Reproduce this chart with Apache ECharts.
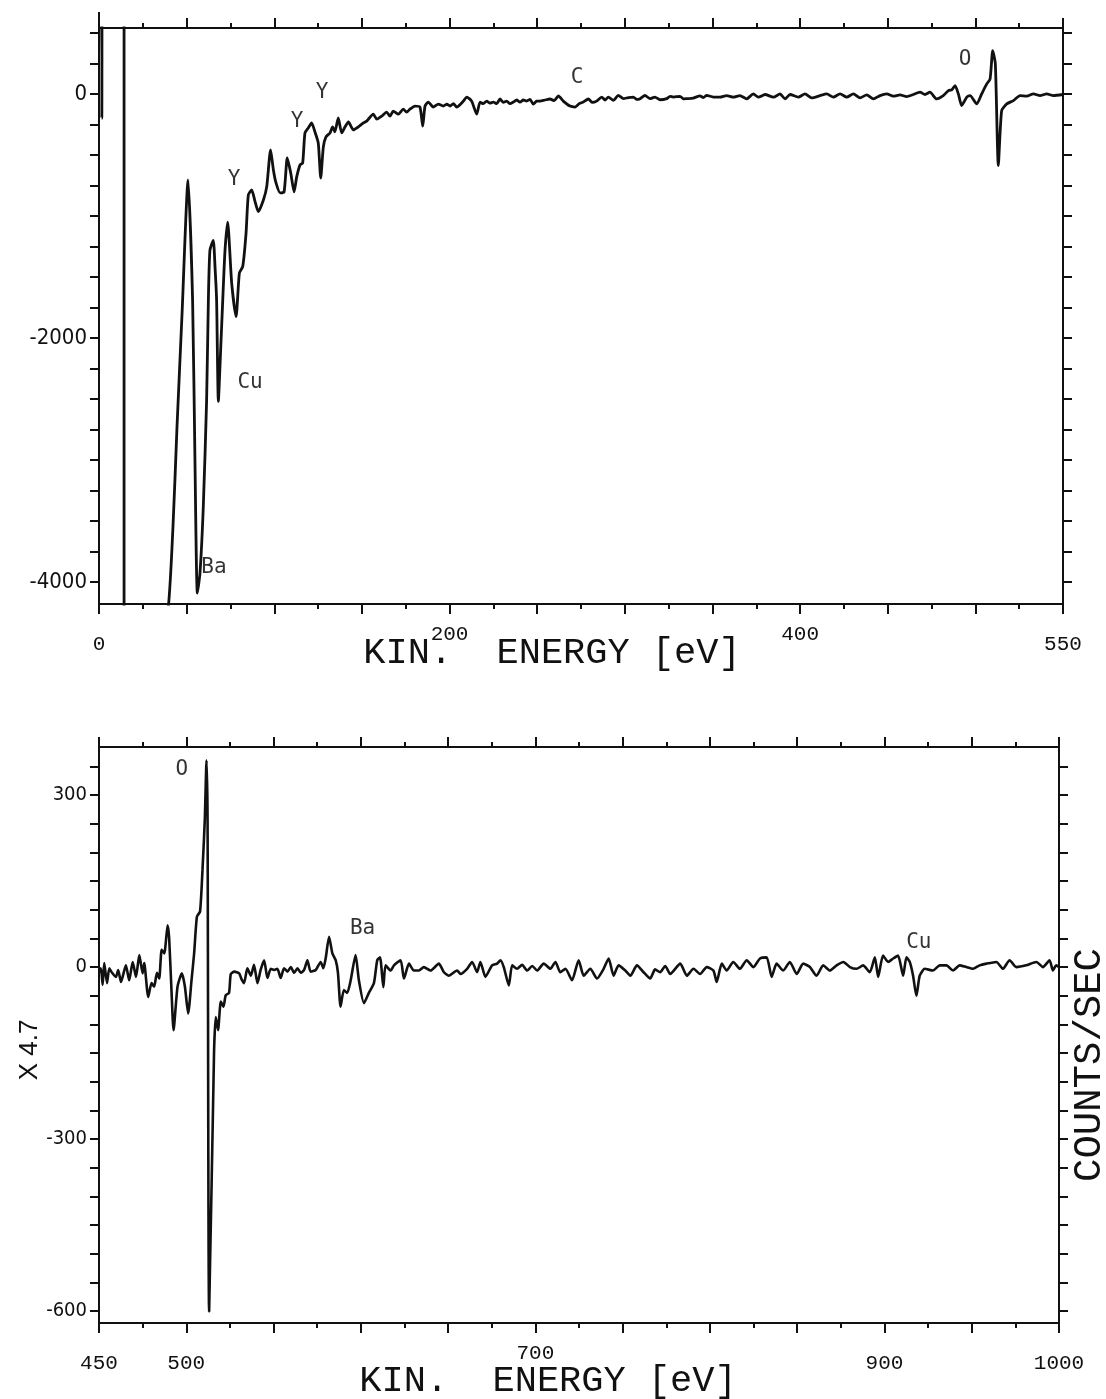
<!DOCTYPE html>
<html>
<head>
<meta charset="utf-8">
<title>AES spectrum</title>
<script src="https://cdn.jsdelivr.net/npm/echarts@6.0.0/dist/echarts.min.js"></script>
<style>
html,body{margin:0;padding:0;background:#fff;}
#chart{width:1106px;height:1399px;}
</style>
</head>
<body>
<div id="chart"></div>
<script>
// values (eV, counts/sec)
const topXLabels = [0, 200, 400, 550];
const topYTicks = [-4000, -3750, -3500, -3250, -3000, -2750, -2500, -2250, -2000, -1750, -1500, -1250, -1000, -750, -500, -250, 0, 250, 500];
const topYLabels = [0, -2000, -4000];
const botXLabels = [450, 500, 700, 900, 1000];
const raisedXLabels = [200, 400, 700];
const botYTicks = [-600, -550, -500, -450, -400, -350, -300, -250, -200, -150, -100, -50, 0, 50, 100, 150, 200, 250, 300, 350];
const botYLabels = [300, 0, -300, -600];

const topSpectrum = [
  [0.8, 3000], [1.6, -200], [2.4, 3000], [14.3, 3000], [14.3, -6000],
  [38.8, -4300], [42.2, -3550], [44.5, -2730], [47.4, -1795], [50.8, -705], [53.4, -1690], [54.8, -3060],
  [56.1, -4090], [57.6, -3930], [59.5, -3385], [61.4, -2510], [62.4, -1690], [63.3, -1280], [65.2, -1200],
  [66.2, -1420], [67.1, -1690], [68.1, -2520], [69.4, -2100], [70.6, -1690], [71.9, -1280], [73.4, -1050],
  [75.7, -1550], [78.2, -1825], [80.1, -1467], [82.0, -1415], [83.9, -1140], [85.2, -828], [87.1, -787],
  [89.0, -880], [90.9, -965], [93.8, -869], [95.7, -760], [97.9, -459], [99.5, -623], [101.0, -730],
  [103.3, -811], [105.6, -803], [107.4, -525], [109.4, -648], [111.3, -803], [112.8, -680], [114.7, -582],
  [116.2, -566], [117.5, -320], [119.4, -279], [121.3, -238], [123.2, -311], [125.1, -402], [126.5, -689],
  [128.0, -434], [129.5, -352], [131.8, -320], [133.3, -270], [134.6, -311], [136.5, -197], [138.5, -320],
  [140.4, -270], [142.3, -230], [145.1, -295], [148.0, -270], [150.8, -238], [152.7, -223], [156.5, -166],
  [158.5, -207], [161.3, -182], [164.1, -149], [166.0, -182], [167.9, -141], [170.8, -166], [173.6, -125],
  [175.5, -150], [177.4, -125], [180.3, -100], [183.1, -108], [184.7, -264], [186.0, -100], [187.9, -67],
  [190.7, -108], [193.6, -84], [196.4, -100], [198.5, -85], [200.3, -100], [202.2, -80], [204.1, -108],
  [207.9, -59], [209.8, -26], [212.6, -59], [215.5, -166], [217.4, -67], [219.3, -80], [221.2, -59],
  [223.1, -75], [225.0, -67], [226.9, -80], [228.8, -42], [230.7, -70], [232.6, -59], [234.5, -80],
  [236.4, -67], [238.3, -50], [240.2, -67], [242.1, -50], [244.0, -59], [245.9, -45], [247.8, -84],
  [249.7, -60], [251.6, -59], [254.5, -50], [257.3, -42], [259.7, -55], [262.1, -17], [264.9, -59],
  [268.7, -100], [271.6, -108], [274.0, -80], [276.3, -67], [279.2, -42], [281.5, -70], [283.9, -59],
  [286.8, -26], [288.7, -50], [290.6, -26], [293.5, -53], [296.3, -12], [299.2, -39], [302.0, -30],
  [304.9, -26], [306.8, -45], [308.7, -39], [311.5, -12], [314.4, -39], [317.2, -26], [320.1, -48],
  [323.9, -39], [325.8, -20], [327.7, -26], [331.5, -20], [333.4, -40], [335.3, -39], [339.1, -34],
  [342.9, -17], [344.8, -30], [346.7, -12], [350.5, -26], [354.3, -27], [358.1, -14], [361.9, -27],
  [365.7, -14], [369.5, -41], [373.3, 0], [376.2, -27], [380.0, -5], [384.8, -27], [388.6, 0],
  [391.4, -41], [394.3, -5], [399.0, -27], [402.8, 0], [406.6, -33], [411.4, -14], [415.2, 0],
  [419.0, -27], [422.8, 0], [426.6, -27], [430.4, 0], [434.2, -33], [438.0, -8], [441.8, -41],
  [445.6, -14], [449.4, 0], [453.2, -19], [457.0, -8], [460.8, -22], [464.6, -5], [468.4, 14],
  [471.3, -5], [474.1, 14], [477.9, -41], [481.7, -14], [484.6, 27], [486.5, 33], [488.4, 68],
  [490.3, 0], [492.2, -96], [495.1, -27], [497.0, -14], [500.8, -82], [503.6, 0], [506.5, 82],
  [508.4, 123], [509.9, 355], [511.4, 246], [513.1, -587], [515.0, -137], [517.9, -82], [521.7, -55],
  [525.5, -14], [529.3, -19], [533.1, 0], [536.9, -14], [540.7, 0], [544.5, -14], [550.0, -5]
];

const bottomSpectrum = [
  [450.2, -10], [451.1, -2], [452.1, -31], [453.0, 7], [454.6, -28], [455.9, -2], [457.5, -10],
  [459.7, -17], [461.0, -5], [462.6, -26], [465.4, 3], [467.3, -23], [469.3, 9], [471.2, -17],
  [473.1, 21], [475.0, -11], [475.9, 7], [478.2, -52], [480.1, -28], [481.6, -34], [483.2, -10],
  [484.5, -20], [485.9, 30], [487.4, 24], [489.3, 73], [490.2, 50], [491.6, -46], [492.7, -110],
  [495.0, -34], [497.5, -11], [499.2, -34], [501.1, -81], [503.0, -23], [504.5, 24], [506.1, 88],
  [507.9, 97], [509.3, 170], [510.6, 256], [511.6, 361], [512.2, 256], [513.1, -601], [515.9, -150],
  [516.9, -87], [518.2, -110], [519.8, -60], [521.3, -69], [522.6, -49], [524.5, -45], [525.5, -12],
  [527.5, -8], [530.3, -11], [531.5, -20], [533.1, -28], [535.0, -2], [537.0, -15], [538.8, 4],
  [540.8, -28], [542.6, -5], [544.6, 12], [546.5, -19], [548.4, -3], [550.3, -5], [552.2, -3],
  [554.1, -19], [556.0, -2], [558.0, -8], [559.9, 0], [561.8, -10], [563.7, -2], [565.6, -10],
  [567.5, -5], [569.4, 12], [571.3, -8], [574.2, -5], [577.0, 9], [578.5, -2], [579.9, 16],
  [581.8, 53], [583.7, 24], [585.6, 12], [586.9, -10], [588.4, -69], [590.3, -40], [592.2, -45],
  [594.2, -23], [597.0, 21], [598.9, -23], [601.8, -63], [604.6, -45], [607.5, -28], [609.4, 12],
  [611.0, 17], [612.9, -35], [614.2, 3], [617.1, -6], [619.0, 3], [622.8, 12], [624.7, -20],
  [627.6, 6], [630.4, -6], [633.3, -6], [636.1, 0], [640.0, -6], [644.7, 6], [647.6, -9],
  [650.4, -15], [655.2, -6], [657.1, -12], [660.9, -3], [663.8, 9], [666.6, -9], [668.5, 9],
  [671.4, -17], [675.2, 3], [678.1, 6], [680.0, 12], [681.9, 0], [684.8, -32], [686.7, 3],
  [689.5, -3], [692.4, 4], [695.3, -6], [698.2, 2], [701.0, -6], [704.8, 6], [708.6, -3],
  [711.5, 9], [714.3, -9], [717.2, -3], [721.0, -23], [724.8, 12], [727.7, -15], [731.5, -3],
  [735.3, -20], [739.1, -3], [742.0, 15], [744.8, -15], [747.7, 3], [751.5, -6], [754.4, -15],
  [758.2, 3], [762.0, -9], [765.8, -20], [768.6, -4], [771.5, -9], [774.4, 2], [777.3, -12],
  [783.0, 6], [786.8, -15], [790.6, -3], [794.4, -12], [798.2, 0], [802.0, -6], [803.9, -26],
  [806.8, 6], [809.6, -6], [813.4, 9], [817.2, -3], [821.1, 12], [824.9, 0], [828.7, 15],
  [832.5, 17], [835.4, -17], [838.2, 6], [842.0, -6], [845.8, 9], [849.7, -12], [853.5, 6],
  [857.3, 0], [861.1, -15], [864.9, 3], [868.7, -6], [872.6, 3], [876.4, 9], [880.2, 0],
  [884.0, -3], [887.8, 3], [891.6, -9], [894.5, 17], [896.4, -17], [899.2, 20], [902.1, 9],
  [905.0, 15], [907.8, 20], [910.7, -15], [912.6, 17], [914.5, 9], [916.4, -15], [918.3, -50],
  [920.2, -15], [923.1, -3], [927.8, -6], [931.7, 3], [935.5, 3], [939.3, -6], [943.1, 3],
  [946.9, 0], [950.7, -3], [954.5, 3], [958.4, 6], [964.1, 9], [967.9, -3], [971.7, 12],
  [975.5, 0], [981.2, 3], [987.0, 9], [990.8, 0], [994.6, 12], [996.5, -6], [998.4, 3], [1000, 0]
];

const topPeaks = [
  [77.0, -705, 'Y'], [113.0, -230, 'Y'], [127.2, 8, 'Y'], [86.2, -2369, 'Cu'],
  [65.6, -3885, 'Ba'], [272.7, 131, 'C'], [494.1, 285, 'O']
];
const bottomPeaks = [
  [497.5, 344, 'O'], [601.0, 68, 'Ba'], [919.7, 42, 'Cu']
];

const ink = '#111';
const mono = "'Liberation Mono', 'DejaVu Sans Mono', monospace";
const labelMono = "'DejaVu Sans Mono', monospace";
const narrow = "'DejaVu Sans Condensed', 'Liberation Sans Narrow', sans-serif";

function xLabelFmt(v) {
  return raisedXLabels.indexOf(v) >= 0 ? '{hi|' + v + '}' : '{lo|' + v + '}';
}
const xRich = {
  hi: { fontFamily: mono, fontSize: 21, color: ink, padding: [0, 0, 0, 0] },
  lo: { fontFamily: mono, fontSize: 21, color: ink, padding: [10, 0, 0, 0] }
};

function xAxis(grid, pos, min, max, labels) {
  return {
    type: 'value', gridIndex: grid, position: pos, min: min, max: max, interval: 50,
    axisLine: { show: true, onZero: false, lineStyle: { color: ink, width: 2 } },
    axisTick: { show: true, length: 10, lineStyle: { color: ink, width: 2 } },
    minorTick: { show: true, splitNumber: 2, length: 5, lineStyle: { color: ink, width: 2 } },
    splitLine: { show: false },
    axisLabel: labels ? {
      show: true, customValues: labels, margin: 20, formatter: xLabelFmt, rich: xRich
    } : { show: false }
  };
}

function yAxis(grid, pos, min, max, ticks, labels, fs, sym, symSize) {
  return {
    type: 'value', gridIndex: grid, position: pos, min: min, max: max,
    axisLine: { show: true, onZero: false, symbol: sym, symbolSize: symSize, lineStyle: { color: ink, width: 2 } },
    axisTick: { show: true, customValues: ticks, length: 9, lineStyle: { color: ink, width: 2 } },
    splitLine: { show: false },
    axisLabel: labels ? {
      show: true, customValues: labels, margin: 12, color: ink,
      fontFamily: narrow, fontSize: fs, formatter: v => String(v)
    } : { show: false }
  };
}

function peakSeries(x, y, data) {
  return {
    type: 'scatter', xAxisIndex: x, yAxisIndex: y, data: data, symbolSize: 1, silent: true,
    itemStyle: { color: 'rgba(0,0,0,0)' },
    label: {
      show: true, position: 'inside', color: '#000', fontFamily: labelMono, fontSize: 21,
      formatter: p => p.value[2]
    }
  };
}

const chart = echarts.init(document.getElementById('chart'), null, { renderer: 'canvas' });
chart.setOption({
  backgroundColor: '#fff',
  animation: false,
  grid: [
    { left: 99, top: 28, width: 964, height: 576 },
    { left: 99, top: 747, width: 960, height: 576 }
  ],
  xAxis: [
    xAxis(0, 'bottom', 0, 550, topXLabels),
    xAxis(0, 'top', 0, 550, null),
    xAxis(1, 'bottom', 450, 1000, botXLabels),
    xAxis(1, 'top', 450, 1000, null)
  ],
  yAxis: [
    yAxis(0, 'left', -4180, 540, topYTicks, topYLabels, 22, ['none', 'rect'], [2, 32]),
    yAxis(0, 'right', -4180, 540, topYTicks, null, 0, ['none', 'rect'], [2, 12]),
    yAxis(1, 'left', -621, 384, botYTicks, botYLabels, 20, ['none', 'rect'], [2, 18]),
    yAxis(1, 'right', -621, 384, botYTicks, null, 0, ['rect', 'rect'], [2, 16])
  ],
  series: [
    {
      type: 'line', xAxisIndex: 0, yAxisIndex: 0, data: topSpectrum, showSymbol: false,
      clip: true, smooth: 0.2, lineStyle: { color: ink, width: 2.8 }
    },
    {
      type: 'line', xAxisIndex: 2, yAxisIndex: 2, data: bottomSpectrum, showSymbol: false,
      clip: true, smooth: 0.2, lineStyle: { color: ink, width: 2.6 }
    },
    peakSeries(0, 0, topPeaks),
    peakSeries(2, 2, bottomPeaks)
  ],
  graphic: [
    { type: 'text', x: 552, y: 653, silent: true,
      style: { text: 'KIN.  ENERGY [eV]', fill: ink, font: '37px ' + mono, align: 'center', verticalAlign: 'middle' } },
    { type: 'text', x: 548, y: 1381, silent: true,
      style: { text: 'KIN.  ENERGY [eV]', fill: ink, font: '37px ' + mono, align: 'center', verticalAlign: 'middle' } },
    { type: 'text', x: 30, y: 1050, rotation: Math.PI / 2, silent: true,
      style: { text: 'X 4.7', fill: ink, font: "26px 'Liberation Sans', sans-serif", align: 'center', verticalAlign: 'middle' } },
    { type: 'text', x: 1090, y: 1065, rotation: Math.PI / 2, silent: true,
      style: { text: 'COUNTS/SEC', fill: ink, font: '39px ' + mono, align: 'center', verticalAlign: 'middle' } }
  ]
});
</script>
</body>
</html>
